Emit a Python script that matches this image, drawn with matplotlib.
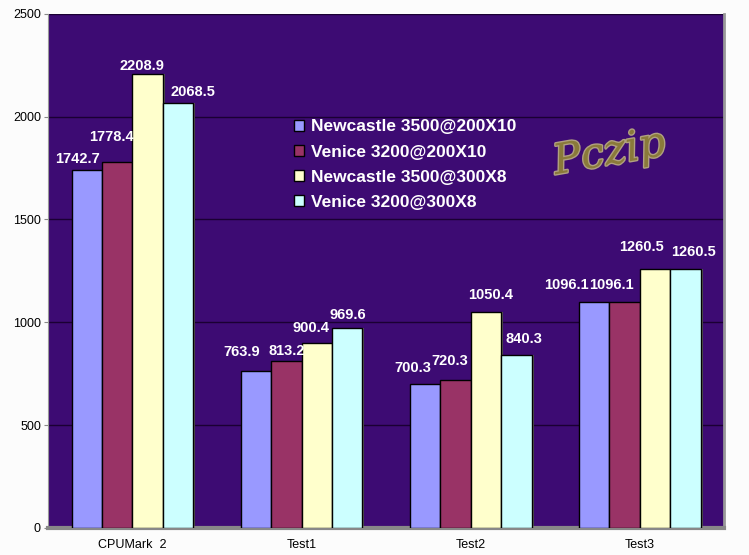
import matplotlib.pyplot as plt
import matplotlib.patheffects as pe
import numpy as np

categories = ["CPUMark  2", "Test1", "Test2", "Test3"]
series_names = ["Newcastle 3500@200X10", "Venice 3200@200X10",
                "Newcastle 3500@300X8", "Venice 3200@300X8"]
newcastle_200x10 = [1742.7, 763.9, 700.3, 1096.1]
venice_200x10 = [1778.4, 813.2, 720.3, 1096.1]
newcastle_300x8 = [2208.9, 900.4, 1050.4, 1260.5]
venice_300x8 = [2068.5, 969.6, 840.3, 1260.5]
yticks = [0, 500, 1000, 1500, 2000, 2500]

series = [newcastle_200x10, venice_200x10, newcastle_300x8, venice_300x8]
colors = ["#9999ff", "#993366", "#ffffcc", "#ccffff"]

# label offsets (pixels) per series / category, like excel placed them
label_dx = [[-9, -14, -12, -28],
            [-6, 0, -6, -13],
            [-6, -6, 5, -13],
            [15, 1, 8, 8]]
label_dy = [[11, 19, 16, 17],
            [25, 10, 19, 17],
            [8, 15, 17, 22],
            [11, 13, 16, 17]]

fig = plt.figure(figsize=(7.49, 5.55), dpi=100, facecolor="#fcfcfc")
ax = fig.add_axes([0.064, 0.049, 0.903, 0.926])
ax.set_facecolor("#3d0b73")

x = np.arange(len(categories))
w = 0.18
for i, (vals, c) in enumerate(zip(series, colors)):
    pos = x + (i - 1.5) * w
    # 3d-ish shadow
    ax.bar(pos + 0.012, vals, w, bottom=0, color="#555555", edgecolor="none",
           zorder=2)
    ax.bar(pos, vals, w, color=c, edgecolor="black", linewidth=1,
           label=series_names[i], zorder=3)
    for j, (p, v) in enumerate(zip(pos, vals)):
        ax.annotate(f"{v:.1f}", (p, v), xytext=(label_dx[i][j], label_dy[i][j]),
                    textcoords="offset pixels", ha="center", va="center",
                    color="white", fontsize=10.5, fontweight="bold",
                    family="Liberation Sans", zorder=6)

ax.set_xlim(-0.5, 3.5)
ax.set_ylim(0, 2500)
ax.set_yticks(yticks)
ax.set_yticklabels([str(t) for t in yticks], family="Liberation Sans",
                   fontsize=9)
ax.set_xticks(x)
ax.set_xticklabels(categories, family="Liberation Sans", fontsize=9)
ax.tick_params(axis="x", length=0, pad=8)
ax.tick_params(axis="y", length=3, pad=2, color="#888888")
ax.grid(axis="y", color="#1a0033", linewidth=1, zorder=1)
ax.set_axisbelow(True)
ax.spines["top"].set_visible(False)
ax.spines["left"].set_color("#999999")
ax.spines["right"].set_color("#999999")
ax.spines["right"].set_linewidth(2)
ax.spines["bottom"].set_color("#888888")
ax.spines["bottom"].set_linewidth(3)

leg = ax.legend(loc="upper left", bbox_to_anchor=(0.34, 0.825), frameon=False,
                handlelength=0.6, handleheight=0.6, labelspacing=0.58,
                handletextpad=0.4,
                prop={"family": "Liberation Sans", "weight": "bold",
                      "size": 12.5})
for t in leg.get_texts():
    t.set_color("white")

ax.text(0.83, 0.73, "Pczip", transform=ax.transAxes, fontsize=30,
        color="#8a7a3a", family="DejaVu Serif", style="italic",
        rotation=10, ha="center", va="center", zorder=1,
        path_effects=[pe.withStroke(linewidth=2, foreground="#b0a080")])

plt.savefig("out.png", dpi=100, facecolor=fig.get_facecolor())
plt.close()
